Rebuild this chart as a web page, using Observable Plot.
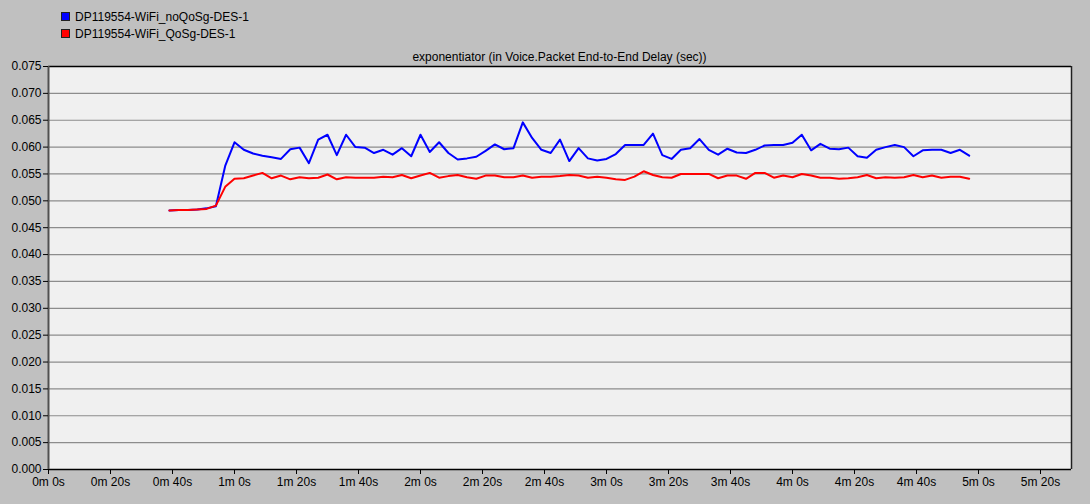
<!DOCTYPE html>
<html>
<head>
<meta charset="utf-8">
<script src="https://cdn.jsdelivr.net/npm/d3@7"></script>
<script src="https://cdn.jsdelivr.net/npm/@observablehq/plot@0.6"></script>
<style>
  html, body { margin: 0; padding: 0; background: #c0c0c0; }
  body { position: relative; width: 1090px; height: 504px; overflow: hidden; font-family: "Liberation Sans", Arial, sans-serif; }
  #header { position: absolute; left: 0; top: 0; width: 1090px; height: 63px; z-index: 2; pointer-events: none; }
  .leg { position: absolute; left: 61px; font-size: 12px; color: #000; line-height: 14px; white-space: nowrap; }
  .sw { display: inline-block; width: 7px; height: 7px; border: 1px solid #202020; margin-right: 5px; vertical-align: 0px; }
  #title { position: absolute; left: 48px; width: 1023px; top: 50px; text-align: center; font-size: 12px; line-height: 14px; color: #000; }
  #chart { position: absolute; left: 0; top: 0; }
  svg { display: block; }
</style>
</head>
<body>
<div id="chart"></div>
<div id="header"></div>
<script>
// ---- data ----
const seriesNames = ["DP119554-WiFi_noQoSg-DES-1", "DP119554-WiFi_QoSg-DES-1"];
const seriesColors = ["#0000ff", "#ff0000"];
const chartTitle = "exponentiator (in Voice.Packet End-to-End Delay (sec))";

const times = [39, 42, 45, 48, 51, 54, 57, 60, 63, 66, 69, 72, 75, 78, 81, 84, 87, 90, 93, 96,
  99, 102, 105, 108, 111, 114, 117, 120, 123, 126, 129, 132, 135, 138, 141, 144, 147, 150, 153, 156,
  159, 162, 165, 168, 171, 174, 177, 180, 183, 186, 189, 192, 195, 198, 201, 204, 207, 210, 213, 216,
  219, 222, 225, 228, 231, 234, 237, 240, 243, 246, 249, 252, 255, 258, 261, 264, 267, 270, 273, 276,
  279, 282, 285, 288, 291, 294, 297];

const noQoS = [0.0482, 0.0483, 0.0483, 0.0484, 0.0486, 0.0490, 0.0565, 0.0609, 0.0595, 0.0588,
  0.0584, 0.0581, 0.0578, 0.0596, 0.0599, 0.0570, 0.0614, 0.0623, 0.0585, 0.0623,
  0.0600, 0.0599, 0.0589, 0.0595, 0.0586, 0.0598, 0.0583, 0.0623, 0.0591, 0.0609,
  0.0589, 0.0577, 0.0579, 0.0582, 0.0593, 0.0605, 0.0596, 0.0598, 0.0646, 0.0617,
  0.0595, 0.0589, 0.0614, 0.0574, 0.0598, 0.0579, 0.0575, 0.0578, 0.0587, 0.0604,
  0.0604, 0.0604, 0.0625, 0.0585, 0.0578, 0.0595, 0.0598, 0.0615, 0.0595, 0.0586,
  0.0597, 0.0590, 0.0589, 0.0595, 0.0603, 0.0604, 0.0604, 0.0608, 0.0623, 0.0594,
  0.0606, 0.0597, 0.0596, 0.0599, 0.0583, 0.0580, 0.0595, 0.0600, 0.0604, 0.0600,
  0.0583, 0.0594, 0.0595, 0.0595, 0.0589, 0.0595, 0.0584];

const withQoS = [0.0482, 0.0483, 0.0483, 0.0484, 0.0485, 0.0491, 0.0526, 0.0541, 0.0542, 0.0547,
  0.0552, 0.0542, 0.0547, 0.0540, 0.0544, 0.0542, 0.0543, 0.0549, 0.0540, 0.0544,
  0.0543, 0.0543, 0.0543, 0.0545, 0.0544, 0.0548, 0.0542, 0.0547, 0.0552, 0.0543,
  0.0546, 0.0548, 0.0544, 0.0541, 0.0547, 0.0547, 0.0544, 0.0544, 0.0547, 0.0543,
  0.0545, 0.0545, 0.0546, 0.0548, 0.0547, 0.0543, 0.0545, 0.0543, 0.0540, 0.0539,
  0.0545, 0.0555, 0.0548, 0.0544, 0.0543, 0.0550, 0.0550, 0.0550, 0.0550, 0.0542,
  0.0547, 0.0547, 0.0541, 0.0552, 0.0552, 0.0543, 0.0547, 0.0544, 0.0550, 0.0547,
  0.0543, 0.0543, 0.0541, 0.0542, 0.0544, 0.0548, 0.0542, 0.0544, 0.0543, 0.0544,
  0.0548, 0.0544, 0.0547, 0.0543, 0.0545, 0.0545, 0.0541];

const yTicks = [0, 0.005, 0.010, 0.015, 0.020, 0.025, 0.030, 0.035, 0.040, 0.045, 0.050, 0.055, 0.060, 0.065, 0.070, 0.075];
const xTicks = [0, 20, 40, 60, 80, 100, 120, 140, 160, 180, 200, 220, 240, 260, 280, 300, 320];
const xDomain = [0, 330];
const yDomain = [0, 0.075];

// ---- header (legend + title) ----
const header = document.getElementById("header");
seriesNames.forEach((name, i) => {
  const d = document.createElement("div");
  d.className = "leg";
  d.style.top = (10 + i * 17) + "px";
  d.innerHTML = `<span class="sw" style="background:${seriesColors[i]}"></span>${name}`;
  header.appendChild(d);
});
const t = document.createElement("div");
t.id = "title";
t.textContent = chartTitle;
header.appendChild(t);

// ---- table ----
const rows = [];
times.forEach((tm, i) => {
  rows.push({t: tm, v: noQoS[i], s: seriesNames[0]});
});
times.forEach((tm, i) => {
  rows.push({t: tm, v: withQoS[i], s: seriesNames[1]});
});

const fmtTime = s => `${Math.floor(s / 60)}m ${s % 60}s`;

const chart = Plot.plot({
  width: 1090,
  height: 504,
  marginTop: 66,
  marginLeft: 48,
  marginRight: 19,
  marginBottom: 35,
  style: {fontFamily: "Liberation Sans, Arial, sans-serif", fontSize: "12px", background: "transparent", color: "#000"},
  x: {domain: xDomain},
  y: {domain: yDomain},
  color: {domain: seriesNames, range: seriesColors},
  marks: [
    Plot.frame({fill: "#f0f0f0", stroke: null}),
    Plot.ruleY(yTicks.filter(d => d > 0 && d < 0.075), {stroke: "#8c8c8c", strokeWidth: 1.2}),
    Plot.line(rows, {x: "t", y: "v", stroke: "s", z: "s", strokeWidth: 2}),
    Plot.ruleY([yDomain[1]], {stroke: "#000", strokeWidth: 1.5}),
    Plot.ruleX([xDomain[1]], {stroke: "#202020", strokeWidth: 1.5}),
    Plot.ruleY([0], {stroke: "#000", strokeWidth: 1.5}),
    Plot.ruleX([0], {stroke: "#505050", strokeWidth: 2}),
    Plot.axisY({ticks: yTicks, tickFormat: d3.format(".3f"), tickSize: 5, tickPadding: 2, stroke: "#000", fill: "#000", label: null}),
    Plot.axisX({ticks: xTicks, tickFormat: fmtTime, tickSize: 5, tickPadding: 3, stroke: "#000", fill: "#000", label: null})
  ]
});
document.getElementById("chart").appendChild(chart);
</script>
</body>
</html>
